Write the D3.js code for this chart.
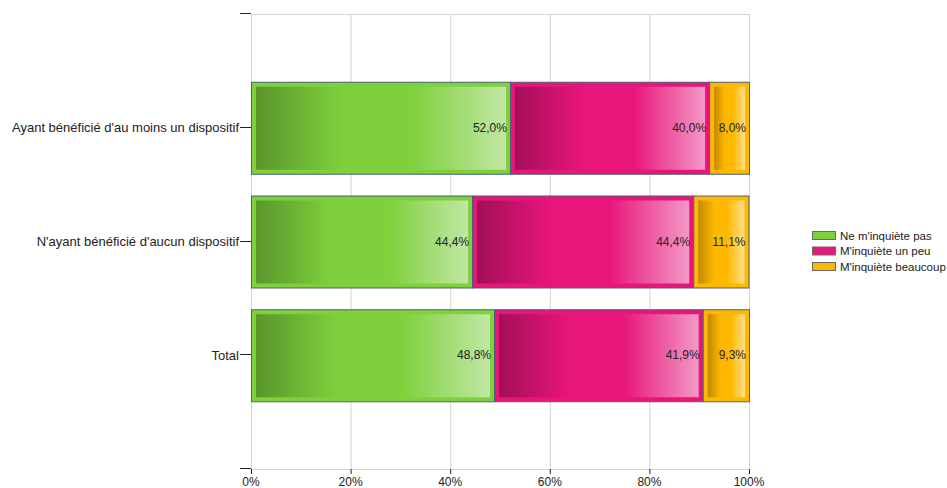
<!DOCTYPE html>
<html>
<head>
<meta charset="utf-8">
<script src="https://cdn.jsdelivr.net/npm/d3@7"></script>
<style>
  body { margin: 0; background: #fff; }
  text { font-family: "Liberation Sans", Arial, sans-serif; fill: #222; }
</style>
</head>
<body>
<div id="chart"></div>
<script>
// data
var categories = ["Ayant bénéficié d'au moins un dispositif", "N'ayant bénéficié d'aucun dispositif", "Total"];
var seriesNames = ["Ne m'inquiète pas", "M'inquiète un peu", "M'inquiète beaucoup"];
var notWorried = [52.0, 44.4, 48.8];
var littleWorried = [40.0, 44.4, 41.9];
var veryWorried = [8.0, 11.1, 9.3];
var xTicks = [0, 20, 40, 60, 80, 100];

// colours: solid, dark, light
var palette = [
  { base: "#7ed03c", dark: "#5a962c", light: "#c2e7a4" },
  { base: "#e8157a", dark: "#a30f58", light: "#f399c6" },
  { base: "#ffb800", dark: "#c08900", light: "#ffe08c" }
];
var borderColor = "#48607c";
var gridColor = "#d4d4d4";

const W = 947, H = 488;
const margin = { top: 14, left: 251, right: 198, bottom: 19 };
const plotW = 749 - 251, plotH = 469 - 14;

const svg = d3.select("#chart").append("svg")
  .attr("width", W).attr("height", H);

const defs = svg.append("defs");
palette.forEach(function (p, i) {
  var g = defs.append("linearGradient").attr("id", "grad" + i)
    .attr("x1", "0%").attr("x2", "100%").attr("y1", "0%").attr("y2", "0%");
  g.append("stop").attr("offset", "0%").attr("stop-color", p.dark);
  g.append("stop").attr("offset", "35%").attr("stop-color", p.base);
  g.append("stop").attr("offset", "62%").attr("stop-color", p.base);
  g.append("stop").attr("offset", "100%").attr("stop-color", p.light);
});

const g = svg.append("g").attr("transform", `translate(${margin.left},${margin.top})`);

const x = d3.scaleLinear().domain([0, 100]).range([0, plotW]);
const y = d3.scalePoint().domain(categories).range([0, plotH]).padding(1);
const barH = 92;

// grid
g.selectAll(".grid").data(xTicks).enter().append("line")
  .attr("x1", d => x(d) + 0.5).attr("x2", d => x(d) + 0.5)
  .attr("y1", 0).attr("y2", plotH)
  .attr("stroke", gridColor);
g.append("line").attr("x1", 0).attr("x2", plotW).attr("y1", 0.5).attr("y2", 0.5).attr("stroke", gridColor);
g.append("line").attr("x1", 0).attr("x2", plotW).attr("y1", plotH + 0.5).attr("y2", plotH + 0.5).attr("stroke", gridColor);

// x axis ticks + labels
g.selectAll(".xt").data(xTicks).enter().append("line")
  .attr("x1", d => x(d) + 0.5).attr("x2", d => x(d) + 0.5)
  .attr("y1", plotH).attr("y2", plotH + 5)
  .attr("stroke", "#222");
g.selectAll(".xl").data(xTicks).enter().append("text")
  .attr("x", d => x(d)).attr("y", plotH + 17)
  .attr("text-anchor", "middle").style("font-size", "12px")
  .text(d => d + "%");

// y axis ticks + labels
var yTickPos = [0, plotH].concat(categories.map(c => y(c)));
g.selectAll(".yt").data(yTickPos).enter().append("line")
  .attr("x1", -11).attr("x2", 0)
  .attr("y1", d => Math.round(d) - 0.5).attr("y2", d => Math.round(d) - 0.5)
  .attr("stroke", "#222");
g.selectAll(".yl").data(categories).enter().append("text")
  .attr("x", -12).attr("y", d => y(d)).attr("dy", "0.35em")
  .attr("text-anchor", "end").style("font-size", "13px")
  .text(d => d);

// stacked bars
var rows = categories.map(function (c, i) {
  return { cat: c, s0: notWorried[i], s1: littleWorried[i], s2: veryWorried[i] };
});
var stack = d3.stack().keys(["s0", "s1", "s2"])(rows);

stack.forEach(function (layer, li) {
  var p = palette[li];
  var seg = g.selectAll(".seg" + li).data(layer).enter().append("g");
  seg.append("rect")
    .attr("x", d => x(d[0]) + 0.5)
    .attr("y", d => y(d.data.cat) - barH / 2 + 0.5)
    .attr("width", d => x(d[1]) - x(d[0]))
    .attr("height", barH)
    .attr("fill", p.base)
    .attr("stroke", borderColor);
  seg.append("rect")
    .attr("x", d => x(d[0]) + 5)
    .attr("y", d => y(d.data.cat) - barH / 2 + 5)
    .attr("width", d => Math.max(0, x(d[1]) - x(d[0]) - 9))
    .attr("height", barH - 9)
    .attr("fill", "url(#grad" + li + ")");
  seg.append("text")
    .attr("x", d => x(d[1]) - 3)
    .attr("y", d => y(d.data.cat)).attr("dy", "0.35em")
    .attr("text-anchor", "end").style("font-size", "12px")
    .text(d => (d[1] - d[0]).toFixed(1).replace(".", ",") + "%");
});

// legend
const legend = svg.append("g").attr("transform", "translate(812,231)");
seriesNames.forEach(function (name, i) {
  var item = legend.append("g").attr("transform", `translate(0,${i * 15.5})`);
  item.append("rect").attr("x", 0.5).attr("y", 0.5).attr("width", 23).attr("height", 8)
    .attr("fill", palette[i].base).attr("stroke", "#6a6a6a");
  item.append("text").attr("x", 28).attr("y", 4.5).attr("dy", "0.35em")
    .style("font-size", "11.5px").text(name);
});
</script>
</body>
</html>
